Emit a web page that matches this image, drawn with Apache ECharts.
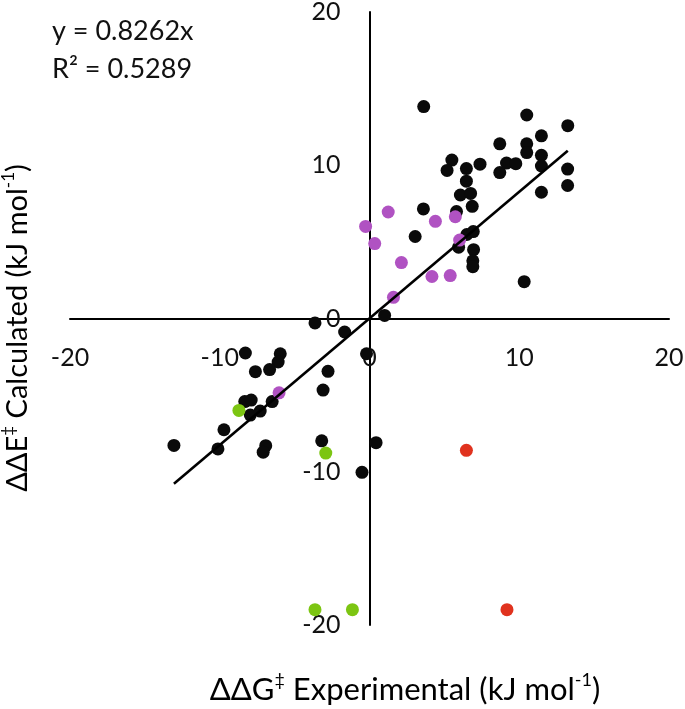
<!DOCTYPE html>
<html>
<head>
<meta charset="utf-8">
<script src="https://cdn.jsdelivr.net/npm/echarts@6/dist/echarts.min.js"></script>
<style>html,body{margin:0;padding:0;background:#fff;}#c{width:685px;height:709px;}</style>
</head>
<body>
<div id="c"></div>
<script>
// ---- data ----
const xTicks = [-20, -10, 0, 10, 20];
const yTicks = [-20, -10, 0, 10, 20];
const blackPoints = [
  [3.62, 13.83], [10.5, 13.28], [13.24, 12.58], [11.48, 11.92], [8.7, 11.4], [10.5, 11.4],
  [10.5, 10.83], [11.48, 10.65], [5.5, 10.34], [7.38, 10.07], [9.15, 10.14], [9.77, 10.1],
  [11.48, 9.95], [5.18, 9.66], [6.47, 9.78], [13.23, 9.75], [8.7, 9.52], [6.47, 8.96],
  [13.23, 8.68], [11.48, 8.24], [6.07, 8.06], [6.75, 8.16], [6.86, 7.32], [3.6, 7.15],
  [5.81, 6.98], [3.05, 5.35], [6.5, 5.48], [6.93, 5.67], [5.95, 4.65], [6.95, 4.49],
  [6.9, 3.77], [6.9, 3.38], [10.33, 2.4], [1.01, 0.2], [-3.64, -0.29], [-1.66, -0.88],
  [-0.2, -2.3], [-8.29, -2.25], [-5.96, -2.3], [-6.1, -2.84], [-6.67, -3.33], [-7.62, -3.47],
  [-2.77, -3.45], [-3.1, -4.67], [-6.5, -5.42], [-8.33, -5.42], [-7.9, -5.32], [-7.96, -6.3],
  [-7.3, -6.04], [-9.72, -7.26], [-13.06, -8.28], [-10.12, -8.51], [-6.93, -8.3], [-7.1, -8.72],
  [-3.19, -7.98], [0.44, -8.1], [-0.5, -10.04]
];
const purplePoints = [
  [1.25, 6.95], [-0.26, 6.01], [0.35, 4.89], [4.4, 6.34], [5.73, 6.64], [2.13, 3.65],
  [4.17, 2.74], [5.39, 2.8], [1.6, 1.38], [6.02, 5.12], [-6.04, -4.85]
];
const greenPoints = [[-8.72, -6.0], [-2.92, -8.78], [-3.64, -19.0], [-1.14, -19.0]];
const redPoints = [[6.47, -8.6], [9.18, -19.0]];
const trendSlope = 0.8262;
const rSquared = 0.5289;

// ---- trendline from data extent ----
const allX = blackPoints.concat(purplePoints, greenPoints, redPoints).map(p => p[0]);
const tMin = Math.min.apply(null, allX), tMax = Math.max.apply(null, allX);
const trendPoints = [[tMin, trendSlope * tMin], [tMax, trendSlope * tMax]];

const FONT = 'Lato, "Open Sans", sans-serif';
const GRID = {left: 70, right: 16, top: 12, bottom: 84};
const W = 685, H = 709;
const gridW = W - GRID.left - GRID.right, gridH = H - GRID.top - GRID.bottom;
const xMin = xTicks[0], xMax = xTicks[xTicks.length - 1];
const yMin = yTicks[0], yMax = yTicks[yTicks.length - 1];
// shift axes so they cross at the origin (labels travel with them)
const xAxisOffset = -gridH * (0 - yMin) / (yMax - yMin);
const yAxisOffset = -gridW * (0 - xMin) / (xMax - xMin);

const chart = echarts.init(document.getElementById('c'), null, {renderer: 'canvas'});

const axisCommon = {
  type: 'value',
  splitLine: {show: false},
  axisTick: {show: false},
  axisLine: {show: true, onZero: false, lineStyle: {color: '#000', width: 2}},
  axisLabel: {color: '#111', fontSize: 25, fontFamily: FONT, showMinLabel: true, showMaxLabel: true}
};

function rich(size) {
  return {
    a: {fontSize: size, fontFamily: FONT, color: '#111', lineHeight: size + 7},
    s: {fontSize: Math.round(size * 0.58), fontFamily: FONT, color: '#111', verticalAlign: 'top', lineHeight: size + 7}
  };
}

function sc(size, color) {
  return {symbolSize: size, itemStyle: {color: color, opacity: 1}};
}

chart.setOption({
  animation: false,
  backgroundColor: '#fff',
  grid: Object.assign({containLabel: false, outerBoundsMode: 'none'}, GRID),
  xAxis: Object.assign({}, axisCommon, {
    position: 'bottom', offset: xAxisOffset,
    min: xMin, max: xMax, interval: xTicks[1] - xTicks[0],
    axisLabel: Object.assign({}, axisCommon.axisLabel, {margin: 27})
  }),
  yAxis: Object.assign({}, axisCommon, {
    position: 'left', offset: yAxisOffset,
    min: yMin, max: yMax, interval: yTicks[1] - yTicks[0],
    axisLabel: Object.assign({}, axisCommon.axisLabel, {margin: 29})
  }),
  series: [
    Object.assign({type: 'scatter', name: 'black', data: blackPoints, z: 2}, sc(13, '#0a0a0a')),
    Object.assign({type: 'scatter', name: 'purple', data: purplePoints, z: 3}, sc(13, '#b052c2')),
    Object.assign({type: 'scatter', name: 'green', data: greenPoints, z: 3}, sc(13, '#7cc512')),
    Object.assign({type: 'scatter', name: 'red', data: redPoints, z: 3}, sc(13, '#e0321e')),
    {type: 'line', name: 'trend', data: trendPoints, showSymbol: false, symbol: 'none', z: 4,
     lineStyle: {color: '#000', width: 2.6}}
  ],
  graphic: [
    {type: 'text', left: 52, top: 18, style: {text: 'y = ' + trendSlope + 'x', font: '27px ' + FONT, fill: '#111'}},
    {type: 'text', left: 52, top: 56, style: {text: 'R\u00B2 = ' + rSquared, font: '27px ' + FONT, fill: '#111'}},
    {type: 'text', x: 405, y: 690,
     style: {text: '{a|\u0394\u0394G}{s|\u2021}{a| Experimental (kJ mol}{s|-1}{a|)}', rich: rich(31), align: 'center', verticalAlign: 'middle'}},
    {type: 'text', x: 18, y: 328, rotation: Math.PI / 2,
     style: {text: '{a|\u0394\u0394E}{s|\u2021}{a| Calculated (kJ mol}{s|-1}{a|)}', rich: rich(29), align: 'center', verticalAlign: 'middle'}}
  ]
});
</script>
</body>
</html>
